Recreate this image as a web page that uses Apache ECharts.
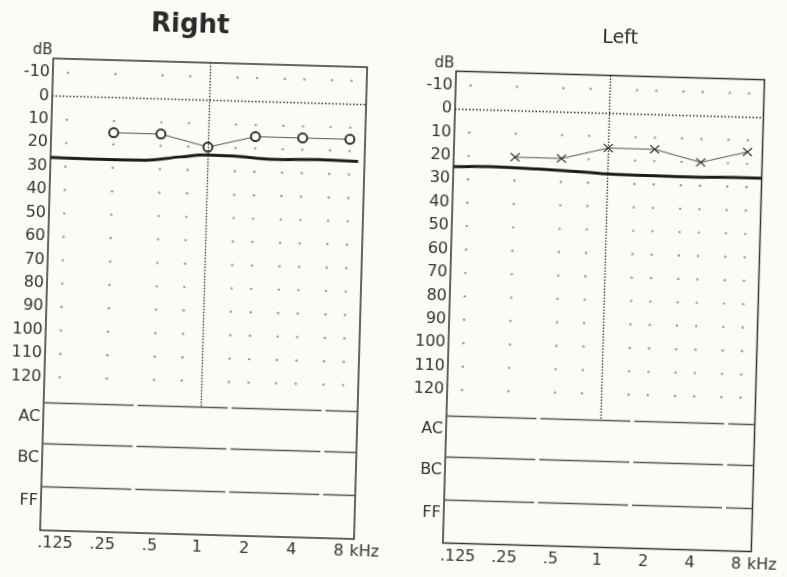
<!DOCTYPE html>
<html><head><meta charset="utf-8">
<script src="https://cdn.jsdelivr.net/npm/echarts@6/dist/echarts.min.js"></script>
<style>
html,body{margin:0;padding:0;background:#fcfbf6;overflow:hidden;}
#c{width:787px;height:577px;transform:rotate(1.6deg);transform-origin:393.5px 288.5px;}
</style></head><body><div id="c"></div>
<script>
// ---- data ----
const freqTicks = [125, 250, 500, 1000, 2000, 4000, 8000];
const freqTickLabels = ['.125', '.25', '.5', '1', '2', '4', '8'];
const dbTicks = [-10, 0, 10, 20, 30, 40, 50, 60, 70, 80, 90, 100, 110, 120];
const rowNames = ['AC', 'BC', 'FF'];
const rowLineLevels = [131, 148.5, 167];
const testFreqs = [250, 500, 1000, 2000, 4000, 8000];
const rightEar = [15, 15, 20, 15, 15, 15];
const leftEar = [20, 20, 15, 15, 20, 15];
const rightRefFreqs = [100, 200, 375, 675, 1000, 1450, 2650, 5000, 9100];
const rightRefLevels = [26.3, 26.5, 26.4, 24.5, 23.4, 23.5, 24.5, 24, 24.3];
const leftRefFreqs = [100, 175, 360, 750, 1000, 2000, 4100, 6700, 10000];
const leftRefLevels = [24.8, 24.3, 24.8, 25.6, 26.1, 26.3, 26.4, 26, 26.1];
const dotFreqs = [125, 250, 500, 750, 1500, 2000, 3000, 4000, 6000, 8000];
const dotLevels = [-10, 10, 20, 30, 40, 50, 60, 70, 80, 90, 100, 110, 120];

// ---- styles ----
const INK = '#333';
const FONT = 'DejaVu Sans';
const Y_MIN = -16, Y_MAX = 185.5;
const rowLabelValues = rowLineLevels.map(v => v + 6);

function yLabel(v) {
  for (let i = 0; i < rowLabelValues.length; i++) {
    if (Math.abs(v - rowLabelValues[i]) < 0.01) return rowNames[i];
  }
  return String(v);
}
function xLabel(v) {
  for (let i = 0; i < freqTicks.length; i++) {
    if (Math.abs(v - freqTicks[i]) < 0.5) return freqTickLabels[i];
  }
  return '';
}

const dots = [];
dotFreqs.forEach(f => dotLevels.forEach(d => dots.push([f, d])));

function xAxisFor(idx) {
  return {
    gridIndex: idx, type: 'log', logBase: 10, min: 100, max: 10000, position: 'bottom',
    axisLine: { show: false, onZero: false }, axisTick: { show: false }, splitLine: { show: false },
    axisLabel: { customValues: freqTicks, formatter: xLabel, margin: 5,
      fontFamily: FONT, fontSize: 16, color: INK },
    name: 'kHz', nameLocation: 'end', nameGap: -5,
    nameTextStyle: { fontFamily: FONT, fontSize: 16, color: INK, verticalAlign: 'top', padding: [5, 0, 0, 0] }
  };
}
function yAxisFor(idx) {
  return {
    gridIndex: idx, type: 'value', inverse: true, min: Y_MIN, max: Y_MAX,
    axisLine: { show: false, onZero: false }, axisTick: { show: false }, splitLine: { show: false },
    axisLabel: { customValues: dbTicks.concat(rowLabelValues), formatter: yLabel, margin: 3,
      fontFamily: FONT, fontSize: 16, color: INK }
  };
}
function panelSeries(idx, earVals, symbol, symbolSize, refF, refL) {
  const rowStyle = { type: [90, 4], width: 1.4, color: '#555' };
  return [
    {
      type: 'scatter', xAxisIndex: idx, yAxisIndex: idx, data: dots, symbolSize: 2.4,
      itemStyle: { color: '#808080' }, silent: true, z: 1,
      markLine: {
        silent: true, symbol: 'none', label: { show: false },
        lineStyle: { color: '#444', width: 1.1, type: 'solid' },
        data: [
          { yAxis: 0, lineStyle: { type: [1.5, 2], width: 1.4, color: '#333' } },
          [{ coord: [1000, Y_MIN], lineStyle: { type: [1.5, 1.5], width: 1.3, color: '#333' } }, { coord: [1000, rowLineLevels[0]] }],
          { yAxis: rowLineLevels[0], lineStyle: rowStyle },
          { yAxis: rowLineLevels[1], lineStyle: rowStyle },
          { yAxis: rowLineLevels[2], lineStyle: rowStyle }
        ]
      }
    },
    {
      type: 'line', xAxisIndex: idx, yAxisIndex: idx, showSymbol: false, smooth: 0.4,
      data: refF.map((f, i) => [f, refL[i]]),
      lineStyle: { color: '#1c1c1c', width: 3 }, silent: true, z: 3
    },
    {
      type: 'line', xAxisIndex: idx, yAxisIndex: idx,
      data: testFreqs.map((f, i) => [f, earVals[i]]),
      symbol: symbol, symbolSize: symbolSize,
      lineStyle: { color: '#555', width: 1 },
      itemStyle: symbol === 'emptyCircle'
        ? { color: INK, borderColor: INK, borderWidth: 1.3 }
        : { color: 'rgba(0,0,0,0)', borderColor: INK, borderWidth: 1.3 },
      z: 4
    }
  ];
}

const chart = echarts.init(document.getElementById('c'));
chart.setOption({
  backgroundColor: '#fcfbf6',
  animation: false,
  title: [
    { text: 'Right', left: 183, top: 18, textAlign: 'center', padding: 0,
      textStyle: { fontFamily: 'Liberation Sans Narrow, DejaVu Sans', fontWeight: 'bold', fontSize: 26, color: '#2a2a2a' } },
    { text: 'Left', left: 613, top: 23, textAlign: 'center', padding: 0,
      textStyle: { fontFamily: 'Liberation Sans Narrow, DejaVu Sans', fontWeight: 'normal', fontSize: 19, color: '#2a2a2a' } }
  ],
  graphic: [
    { type: 'text', x: 46, y: 68, style: { text: 'dB', fontFamily: FONT, fontSize: 15, fill: INK, align: 'right', verticalAlign: 'bottom' } },
    { type: 'text', x: 448, y: 69.5, style: { text: 'dB', fontFamily: FONT, fontSize: 15, fill: INK, align: 'right', verticalAlign: 'bottom' } }
  ],
  grid: [
    { left: 47, top: 68, width: 314, height: 472, show: true, borderColor: INK, borderWidth: 1.5, backgroundColor: 'transparent' },
    { left: 450, top: 69.5, width: 313, height: 472, show: true, borderColor: INK, borderWidth: 1.5, backgroundColor: 'transparent' }
  ],
  xAxis: [xAxisFor(0), xAxisFor(1)],
  yAxis: [yAxisFor(0), yAxisFor(1)],
  series: []
    .concat(panelSeries(0, rightEar, 'emptyCircle', 9, rightRefFreqs, rightRefLevels))
    .concat(panelSeries(1, leftEar, 'path://M0,0L10,10M10,0L0,10', [9, 8], leftRefFreqs, leftRefLevels))
});
</script></body></html>
